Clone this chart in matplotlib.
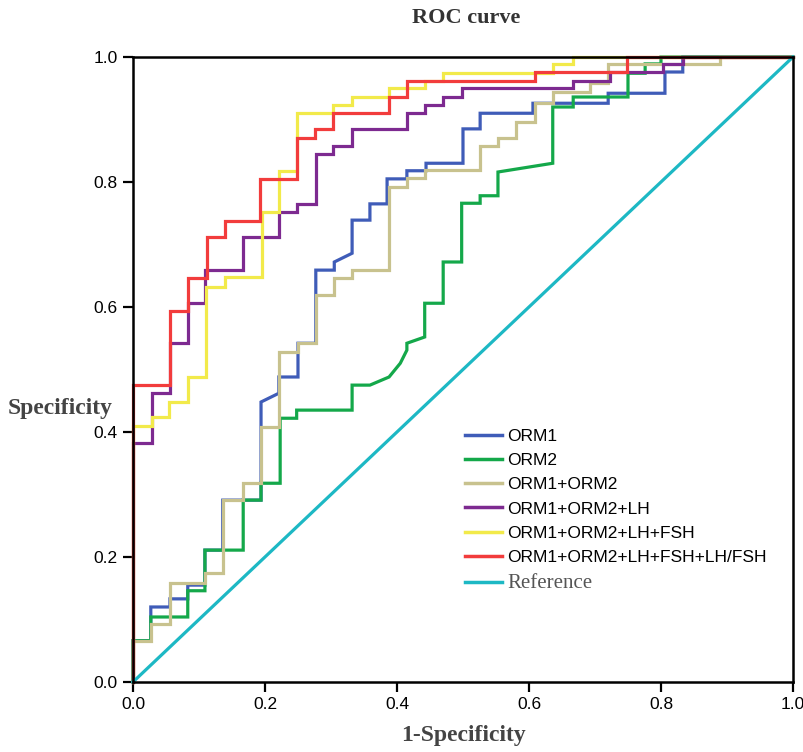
import matplotlib
matplotlib.use("Agg")
import matplotlib.pyplot as plt

# ROC curves (1-specificity, specificity)
orm1_x = [0, 0, 0.027, 0.027, 0.056, 0.056, 0.083, 0.083, 0.109, 0.109, 0.136, 0.136,
          0.194, 0.194, 0.221, 0.221, 0.25, 0.25, 0.277, 0.277, 0.305, 0.305, 0.332, 0.332,
          0.359, 0.359, 0.385, 0.385, 0.415, 0.415, 0.444, 0.444, 0.5, 0.5, 0.526, 0.526,
          0.606, 0.606, 0.72, 0.72, 0.806, 0.806, 0.833, 0.833, 1.0]
orm1_y = [0, 0.066, 0.066, 0.12, 0.12, 0.133, 0.133, 0.155, 0.155, 0.211, 0.211, 0.291,
          0.291, 0.448, 0.462, 0.488, 0.488, 0.542, 0.542, 0.659, 0.659, 0.672, 0.686, 0.739,
          0.739, 0.765, 0.765, 0.805, 0.805, 0.818, 0.818, 0.830, 0.830, 0.885, 0.885, 0.910,
          0.910, 0.926, 0.926, 0.942, 0.942, 0.976, 0.976, 1.0, 1.0]

orm2_x = [0, 0, 0.027, 0.027, 0.083, 0.083, 0.109, 0.109, 0.167, 0.167, 0.194, 0.194,
          0.223, 0.223, 0.248, 0.248, 0.332, 0.332, 0.359, 0.388, 0.405, 0.415, 0.415,
          0.442, 0.442, 0.470, 0.470, 0.498, 0.498, 0.526, 0.526, 0.553, 0.553, 0.636,
          0.636, 0.667, 0.667, 0.750, 0.750, 0.776, 0.776, 0.80, 0.80, 1.0]
orm2_y = [0, 0.066, 0.066, 0.104, 0.104, 0.146, 0.146, 0.211, 0.211, 0.291, 0.291, 0.318,
          0.318, 0.422, 0.422, 0.435, 0.435, 0.475, 0.475, 0.488, 0.51, 0.531, 0.542,
          0.552, 0.606, 0.606, 0.672, 0.672, 0.766, 0.766, 0.778, 0.778, 0.816, 0.830,
          0.920, 0.920, 0.936, 0.936, 0.974, 0.974, 0.989, 0.989, 1.0, 1.0]

orm12_x = [0, 0, 0.027, 0.027, 0.056, 0.056, 0.109, 0.109, 0.136, 0.136, 0.167, 0.167,
           0.194, 0.194, 0.221, 0.221, 0.25, 0.25, 0.277, 0.277, 0.305, 0.305, 0.332, 0.332,
           0.388, 0.388, 0.415, 0.415, 0.442, 0.442, 0.526, 0.526, 0.553, 0.553, 0.581, 0.581,
           0.609, 0.609, 0.636, 0.636, 0.692, 0.692, 0.720, 0.720, 0.889, 0.889, 1.0]
orm12_y = [0, 0.066, 0.066, 0.093, 0.093, 0.158, 0.158, 0.174, 0.174, 0.291, 0.291, 0.318,
           0.318, 0.408, 0.408, 0.528, 0.528, 0.542, 0.542, 0.619, 0.619, 0.646, 0.646, 0.659,
           0.659, 0.792, 0.792, 0.806, 0.806, 0.819, 0.819, 0.858, 0.858, 0.870, 0.870, 0.896,
           0.896, 0.926, 0.926, 0.944, 0.944, 0.958, 0.958, 0.989, 0.989, 1.0, 1.0]

lh_x = [0, 0, 0.029, 0.029, 0.056, 0.056, 0.083, 0.083, 0.109, 0.109, 0.167, 0.167,
        0.221, 0.221, 0.248, 0.248, 0.277, 0.277, 0.303, 0.303, 0.332, 0.332, 0.415, 0.415,
        0.442, 0.442, 0.470, 0.470, 0.498, 0.498, 0.667, 0.667, 0.723, 0.723, 0.803, 0.803,
        0.833, 0.833, 1.0]
lh_y = [0, 0.382, 0.382, 0.462, 0.462, 0.542, 0.542, 0.606, 0.606, 0.659, 0.659, 0.712,
        0.712, 0.752, 0.752, 0.765, 0.765, 0.845, 0.845, 0.858, 0.858, 0.885, 0.885, 0.910,
        0.910, 0.923, 0.923, 0.936, 0.936, 0.950, 0.950, 0.962, 0.962, 0.976, 0.976, 0.989,
        0.989, 1.0, 1.0]

fsh_x = [0, 0, 0.029, 0.029, 0.055, 0.055, 0.083, 0.083, 0.11, 0.11, 0.139, 0.139,
         0.195, 0.195, 0.221, 0.221, 0.248, 0.248, 0.303, 0.303, 0.332, 0.332, 0.388, 0.388,
         0.442, 0.442, 0.470, 0.470, 0.636, 0.636, 0.667, 0.667, 1.0]
fsh_y = [0, 0.41, 0.41, 0.424, 0.424, 0.448, 0.448, 0.488, 0.488, 0.632, 0.632, 0.648,
         0.648, 0.752, 0.752, 0.818, 0.818, 0.910, 0.910, 0.923, 0.923, 0.936, 0.936, 0.950,
         0.950, 0.962, 0.962, 0.975, 0.975, 0.989, 0.989, 1.0, 1.0]

ratio_x = [0, 0, 0.056, 0.056, 0.083, 0.083, 0.112, 0.112, 0.139, 0.139, 0.192, 0.192,
           0.248, 0.248, 0.276, 0.276, 0.303, 0.303, 0.388, 0.388, 0.415, 0.415, 0.609,
           0.609, 0.748, 0.748, 1.0]
ratio_y = [0, 0.475, 0.475, 0.594, 0.594, 0.646, 0.646, 0.712, 0.712, 0.738, 0.738, 0.805,
           0.805, 0.870, 0.870, 0.885, 0.885, 0.910, 0.910, 0.936, 0.936, 0.962, 0.962,
           0.976, 0.976, 1.0, 1.0]

ref_x = [0, 1]
ref_y = [0, 1]

labels = ["ORM1", "ORM2", "ORM1+ORM2", "ORM1+ORM2+LH", "ORM1+ORM2+LH+FSH",
          "ORM1+ORM2+LH+FSH+LH/FSH", "Reference"]
colors = ["#3f5cb8", "#14a84a", "#c8c28e", "#7d2a90", "#f2ea4a", "#f23c3c", "#1db8c4"]
ticks = [0.0, 0.2, 0.4, 0.6, 0.8, 1.0]

fig = plt.figure(figsize=(8.04, 7.52), dpi=100)
ax = fig.add_axes([0.1654, 0.0931, 0.8209, 0.8311])

curves = [(orm1_x, orm1_y), (orm2_x, orm2_y), (orm12_x, orm12_y), (lh_x, lh_y),
          (fsh_x, fsh_y), (ratio_x, ratio_y), (ref_x, ref_y)]
for (xs, ys), lab, col in zip(curves, labels, colors):
    ax.plot(xs, ys, color=col, lw=2.3, label=lab, clip_on=False,
            solid_joinstyle="miter")

ax.set_xlim(0, 1)
ax.set_ylim(0, 1)
ax.set_xticks(ticks)
ax.set_yticks(ticks)
ax.set_xticklabels(["%.1f" % t for t in ticks])
ax.set_yticklabels(["%.1f" % t for t in ticks])
ax.tick_params(direction="out", length=7, width=1.6, labelsize=12.5,
               colors="black", pad=4)
for lbl in ax.get_xticklabels() + ax.get_yticklabels():
    lbl.set_family("Liberation Sans")
for s in ax.spines.values():
    s.set_linewidth(1.8)
    s.set_color("black")

serif = "Liberation Serif"
fig.text(0.58, 0.976, "ROC curve", family=serif, fontweight="bold",
         fontsize=16, color="#333333", ha="center", va="center")
fig.text(0.576, 0.022, "1-Specificity", family=serif, fontweight="bold",
         fontsize=17, color="#444444", ha="center", va="center")
fig.text(0.01, 0.457, "Specificity", family=serif, fontweight="bold",
         fontsize=17, color="#444444", ha="left", va="center")

leg = ax.legend(loc="upper left", bbox_to_anchor=(0.48, 0.43), frameon=False,
                handlelength=2.1, handletextpad=0.3, labelspacing=0.52,
                prop={"family": "Liberation Sans", "size": 12.5})
for line in leg.get_lines():
    line.set_linewidth(2.5)
ref_txt = leg.get_texts()[-1]
ref_txt.set_family(serif)
ref_txt.set_color("#555555")
ref_txt.set_fontsize(15)

fig.savefig("out.png", dpi=100)
